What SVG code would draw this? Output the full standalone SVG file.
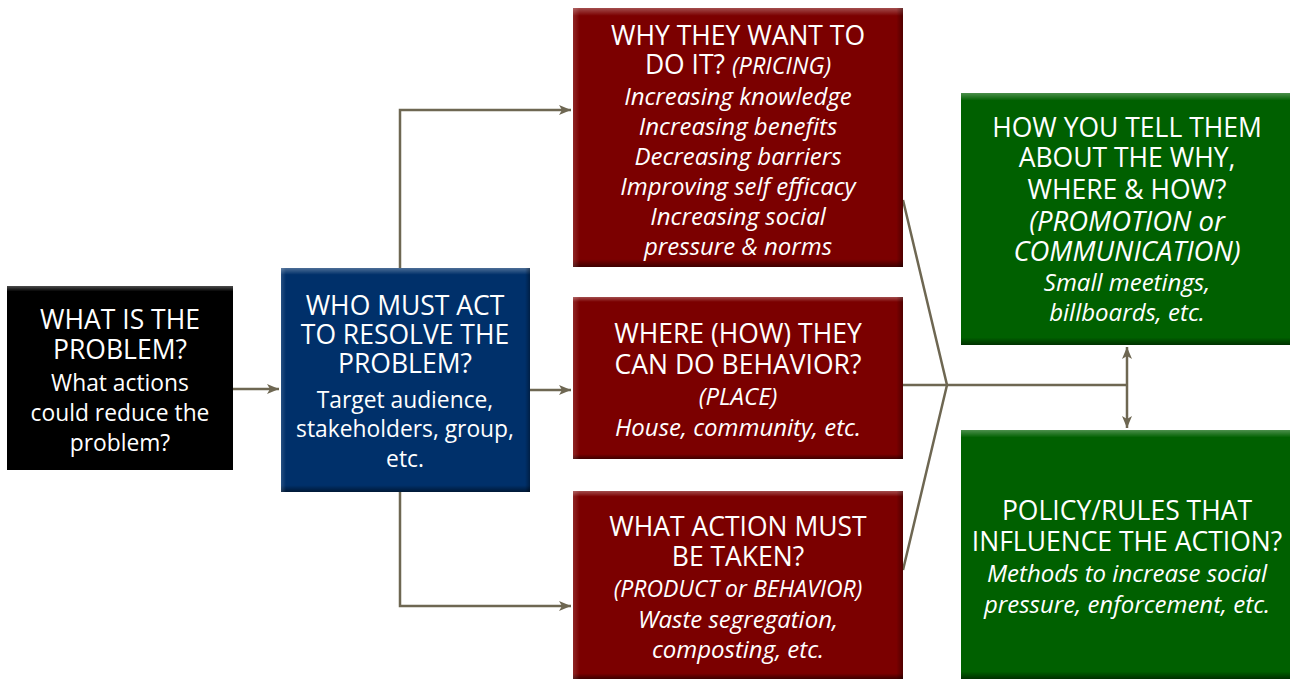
<svg xmlns="http://www.w3.org/2000/svg" width="1291" height="679" viewBox="0 0 1291 679">
<defs>
<style>
.t{font-family:"Open Sans","Liberation Sans",sans-serif;fill:#fff;text-anchor:middle}
.h{font-size:26.5px}
.hi{font-size:27.5px;font-style:italic}
.b{font-size:22.8px}
.i{font-size:24px;font-style:italic}
.c{fill:none;stroke:#6e6752;stroke-width:2.5}
</style>
<marker id="ah" viewBox="0 0 12 10" refX="12" refY="5" markerWidth="12" markerHeight="10" markerUnits="userSpaceOnUse" orient="auto-start-reverse">
<path d="M0,0 L12,5 L0,10 L3,5 Z" fill="#6e6752"/>
</marker>
<linearGradient id="shade" x1="0" y1="0" x2="0" y2="1">
<stop offset="0" stop-color="#fff" stop-opacity="0.3"/>
<stop offset="0.03" stop-color="#fff" stop-opacity="0"/>
<stop offset="0.97" stop-color="#000" stop-opacity="0"/>
<stop offset="1" stop-color="#000" stop-opacity="0.5"/>
</linearGradient>
<linearGradient id="shadeH" x1="0" y1="0" x2="1" y2="0">
<stop offset="0" stop-color="#fff" stop-opacity="0.15"/>
<stop offset="0.02" stop-color="#fff" stop-opacity="0"/>
<stop offset="0.98" stop-color="#000" stop-opacity="0"/>
<stop offset="1" stop-color="#000" stop-opacity="0.35"/>
</linearGradient>
</defs>
<rect width="1291" height="679" fill="#fff"/>
<g id="connectors">
<path class="c" d="M233,389 H279" marker-end="url(#ah)"/>
<path class="c" d="M400,268 V110 H571" marker-end="url(#ah)"/>
<path class="c" d="M530,390 H571" marker-end="url(#ah)"/>
<path class="c" d="M400,492 V606 H571" marker-end="url(#ah)"/>
<path class="c" d="M903,200 L947,385 L903,570"/>
<path class="c" d="M903,385 H1127"/>
<path class="c" d="M1127,347 V428" marker-start="url(#ah)" marker-end="url(#ah)"/>
</g>
<g id="n-problem">
<rect x="7" y="286" width="226" height="184" fill="#000"/>
<rect x="7" y="286" width="226" height="184" fill="url(#shade)"/>
<text class="t h" x="120" y="329">WHAT IS THE</text>
<text class="t h" x="120" y="359">PROBLEM?</text>
<text class="t b" x="120" y="391">What actions</text>
<text class="t b" x="120" y="421">could reduce the</text>
<text class="t b" x="120" y="451">problem?</text>
</g>
<g id="n-who">
<rect x="281" y="268" width="249" height="224" fill="#00306a"/>
<rect x="281" y="268" width="249" height="224" fill="url(#shade)"/>
<rect x="281" y="268" width="249" height="224" fill="url(#shadeH)"/>
<text class="t h" x="405" y="315">WHO MUST ACT</text>
<text class="t h" x="405" y="344">TO RESOLVE THE</text>
<text class="t h" x="405" y="373">PROBLEM?</text>
<text class="t b" x="405" y="408">Target audience,</text>
<text class="t b" x="405" y="437">stakeholders, group,</text>
<text class="t b" x="405" y="467">etc.</text>
</g>
<g id="n-why">
<rect x="573" y="8" width="330" height="259" fill="#7b0000"/>
<rect x="573" y="8" width="330" height="259" fill="url(#shade)"/>
<rect x="573" y="8" width="330" height="259" fill="url(#shadeH)"/>
<text class="t h" x="738" y="45">WHY THEY WANT TO</text>
<text class="t h" x="738" y="74">DO IT? <tspan font-style="italic" font-size="23.5">(PRICING)</tspan></text>
<text class="t i" x="738" y="105">Increasing knowledge</text>
<text class="t i" x="738" y="135">Increasing benefits</text>
<text class="t i" x="738" y="165">Decreasing barriers</text>
<text class="t i" x="738" y="195">Improving self efficacy</text>
<text class="t i" x="738" y="225">Increasing social</text>
<text class="t i" x="738" y="255">pressure &amp; norms</text>
</g>
<g id="n-where">
<rect x="573" y="297" width="330" height="162" fill="#7b0000"/>
<rect x="573" y="297" width="330" height="162" fill="url(#shade)"/>
<rect x="573" y="297" width="330" height="162" fill="url(#shadeH)"/>
<text class="t h" x="738" y="343">WHERE (HOW) THEY</text>
<text class="t h" x="738" y="374">CAN DO BEHAVIOR?</text>
<text class="t i" x="738" y="405">(PLACE)</text>
<text class="t i" x="738" y="436">House, community, etc.</text>
</g>
<g id="n-what">
<rect x="573" y="491" width="330" height="188" fill="#7b0000"/>
<rect x="573" y="491" width="330" height="188" fill="url(#shade)"/>
<rect x="573" y="491" width="330" height="188" fill="url(#shadeH)"/>
<text class="t h" x="738" y="536">WHAT ACTION MUST</text>
<text class="t h" x="738" y="566">BE TAKEN?</text>
<text class="t i" x="738" y="597" style="font-size:23px">(PRODUCT or BEHAVIOR)</text>
<text class="t i" x="738" y="628">Waste segregation,</text>
<text class="t i" x="738" y="658">composting, etc.</text>
</g>
<g id="n-how">
<rect x="961" y="93" width="329" height="252" fill="#006000"/>
<rect x="961" y="93" width="329" height="252" fill="url(#shade)"/>
<text class="t h" x="1127" y="137">HOW YOU TELL THEM</text>
<text class="t h" x="1127" y="167">ABOUT THE WHY,</text>
<text class="t h" x="1127" y="199">WHERE &amp; HOW?</text>
<text class="t hi" x="1127" y="231">(PROMOTION or</text>
<text class="t hi" x="1127" y="261">COMMUNICATION)</text>
<text class="t i" x="1127" y="291">Small meetings,</text>
<text class="t i" x="1127" y="321">billboards, etc.</text>
</g>
<g id="n-policy">
<rect x="961" y="430" width="329" height="249" fill="#006000"/>
<rect x="961" y="430" width="329" height="249" fill="url(#shade)"/>
<text class="t h" x="1127" y="520">POLICY/RULES THAT</text>
<text class="t h" x="1127" y="551">INFLUENCE THE ACTION?</text>
<text class="t i" x="1127" y="582">Methods to increase social</text>
<text class="t i" x="1127" y="613">pressure, enforcement, etc.</text>
</g>
</svg>
